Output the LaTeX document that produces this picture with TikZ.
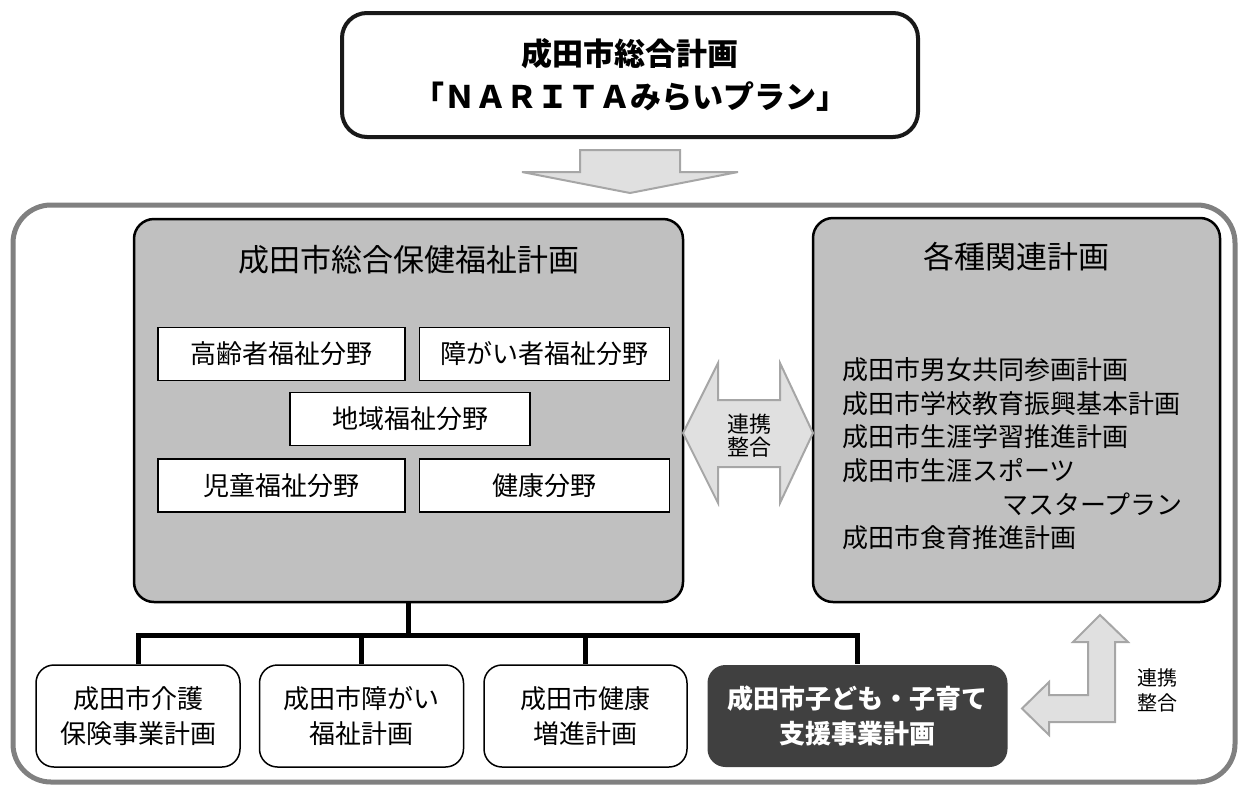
\documentclass[tikz,border=0pt]{standalone}
\usepackage{fontspec}
\setmainfont{Noto Sans CJK JP}
\usetikzlibrary{positioning}
\definecolor{boxgray}{RGB}{192,192,192}
\definecolor{darkbox}{RGB}{64,64,64}
\definecolor{arrowfill}{RGB}{224,224,224}
\definecolor{arrowline}{RGB}{166,166,166}
\definecolor{framegray}{RGB}{128,128,128}
\tikzset{
	bigfont/.style={font=\fontsize{31}{31}\selectfont},
	midfont/.style={font=\fontsize{26}{34}\selectfont},
	graybox/.style={draw=black, line width=2.5pt, fill=boxgray, rounded corners=20pt, inner sep=0pt},
	field/.style={draw=black, line width=1.5pt, fill=white, inner sep=0pt, minimum height=53pt, midfont},
	plan/.style={draw=black, line width=1.5pt, fill=white, rounded corners=18pt, minimum width=204pt, minimum height=102pt, align=center, font=\fontsize{26}{35}\selectfont},
	kodomoplan/.style={plan, draw=none, fill=darkbox, text=white, font=\fontsize{26}{35}\selectfont\bfseries, minimum width=300pt},
	listitem/.style={midfont, inner sep=0pt},
	fatarrow/.style={draw=arrowline, line width=2pt, fill=arrowfill},
	tree/.style={line width=5pt},
}
\begin{document}
\begin{tikzpicture}[x=1pt,y=-1pt]
	\useasboundingbox (0,0) rectangle (1240,785);
	%% 総合計画
	\node[draw=black!90, line width=4pt, rounded corners=25pt, fill=white, minimum width=576pt, minimum height=124pt, align=center, font=\fontsize{31}{43}\selectfont\bfseries] (narita) at (630,75) {成田市総合計画\\「ＮＡＲＩＴＡみらいプラン」};
	\draw[fatarrow] (580,150) -- (680,150) -- (680,172) -- (738,172) -- (630,193) -- (522,172) -- (580,172) -- cycle;
	%% 外枠
	\draw[framegray, line width=5pt, rounded corners=38pt] (13,205) rectangle (1235,782);
	%% 総合保健福祉計画
	\node[graybox, minimum width=549pt, minimum height=383pt] (hoken) at (408.5,410.5) {};
	\node[bigfont] (hokentitle) at (409,260) {成田市総合保健福祉計画};
	\node[field, minimum width=247pt] (koreisha) at (281.5,354) {高齢者福祉分野};
	\node[field, minimum width=250pt, right=13pt of koreisha] (shogaisha) {障がい者福祉分野};
	\node[field, minimum width=240pt] (chiiki) at (410,419) {地域福祉分野};
	\node[field, minimum width=247pt] (jido) at (281.5,485.5) {児童福祉分野};
	\node[field, minimum width=250pt, right=13pt of jido] (kenko) {健康分野};
	%% 各種関連計画
	\node[graybox, minimum width=407pt, minimum height=384pt] (kanren) at (1016.5,410) {};
	\node[bigfont] (kanrentitle) at (1016,257) {各種関連計画};
	\node[listitem, anchor=west] (danjo) at (842,370) {成田市男女共同参画計画};
	\node[listitem, anchor=west] (gakko) at (842,403.5) {成田市学校教育振興基本計画};
	\node[listitem, anchor=west] (gakushu) at (842,437) {成田市生涯学習推進計画};
	\node[listitem, anchor=west] (sports) at (842,470.5) {成田市生涯スポーツ};
	\node[listitem, anchor=east] (master) at (1183,504) {マスタープラン};
	\node[listitem, anchor=west] (shokuiku) at (842,537.5) {成田市食育推進計画};
	% 連携・整合
	\draw[fatarrow] (683,433) -- (718,363) -- (718,400) -- (780,400) -- (780,363) -- (813,433) -- (780,503) -- (780,467) -- (718,467) -- (718,503) -- cycle;
	\node[font=\fontsize{22}{23}\selectfont, align=center] (renkei) at (749,436) {連携\\整合};
	%% 個別計画
	\node[plan] (kaigo) at (138,716) {成田市介護\\保険事業計画};
	\node[plan, right=18pt of kaigo] (shogai) {成田市障がい\\福祉計画};
	\node[plan, minimum width=203pt, right=19pt of shogai] (zoshin) {成田市健康\\増進計画};
	\node[kodomoplan, right=19pt of zoshin] (kodomo) {成田市子ども・子育て\\支援事業計画};
	\coordinate (bar) at (0,635);
	\draw[tree] (kaigo.north) -- (kaigo.north |- bar) -- (kodomo.north |- bar) -- (kodomo.north);
	\draw[tree] (hoken.south) -- (hoken.south |- bar);
	\draw[tree] (shogai.north |- bar) -- (shogai.north);
	\draw[tree] (zoshin.north |- bar) -- (zoshin.north);
	% 子育て計画と関連計画
	\draw[fatarrow] (1100,615) -- (1128,642) -- (1115,642) -- (1115,722) -- (1049,722) -- (1049,735) -- (1022,708.5) -- (1049,682) -- (1049,695) -- (1088,695) -- (1088,642) -- (1073,642) -- cycle;
	\node[font=\fontsize{20}{25}\selectfont, align=center] (renkei2) at (1157,690) {連携\\整合};
\end{tikzpicture}
\end{document}
